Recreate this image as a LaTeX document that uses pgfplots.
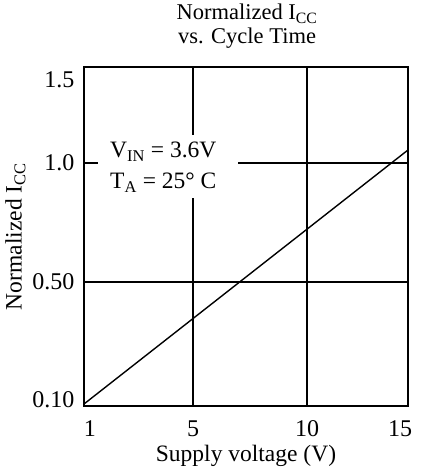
\documentclass[border=0pt]{standalone}
\usepackage{fontspec}
\setmainfont{Liberation Serif}
\usepackage{pgfplots}
\pgfplotsset{compat=1.18}

\begin{document}
\begin{tikzpicture}[font=\fontsize{23.5}{26}\selectfont]
\begin{axis}[
    name=ax,
    width=324pt, height=339pt,
    scale only axis,
    xmin=0, xmax=324,
    ymin=0, ymax=339,
    axis line style={line width=2.7pt},
    xtick={109,223},
    xticklabels={5,10},
    extra x ticks={6,316},
    extra x tick labels={1,15},
    ytick={124,243},
    yticklabels={0.50,1.0},
    extra y ticks={6,326},
    extra y tick labels={0.10,1.5},
    extra tick style={grid=none},
    major tick length=0pt,
    grid=major,
    major grid style={black, line width=1.3pt},
    ticklabel style={font=\fontsize{24}{26}\selectfont},
    xticklabel style={yshift=-11pt},
    yticklabel style={xshift=-6pt},
    xlabel={Supply voltage (V)},
    ylabel={Normalized I\textsubscript{CC}},
    xlabel style={yshift=-2pt},
    clip=false,
]
\addplot[black, line width=1.4pt] coordinates {(0,2) (324,256)};
\fill[white] (axis cs:14,208) rectangle (axis cs:154,271);
\node[anchor=base west, inner sep=0pt] at (axis cs:26,248) {V\textsubscript{IN} = 3.6V};
\node[anchor=base west, inner sep=0pt] at (axis cs:26,217) {T\textsubscript{A} = 25° C};
\node[anchor=base, inner sep=0pt, font=\fontsize{22.5}{24}\selectfont] at (axis cs:163,386) {Normalized I\textsubscript{CC}};
\node[anchor=base, inner sep=0pt, font=\fontsize{22.5}{24}\selectfont] at (axis cs:163,362) {vs. Cycle Time};
\coordinate (bl) at (axis cs:0,0);
\end{axis}
\pgfresetboundingbox
\path[use as bounding box] (bl) ++(-84pt,-70pt) rectangle ++(433pt,476pt);
\end{tikzpicture}
\end{document}
